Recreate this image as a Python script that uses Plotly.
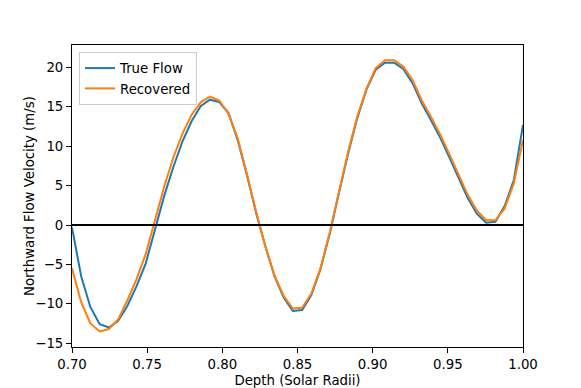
import plotly.graph_objects as go

depth = [0.7000, 0.7061, 0.7122, 0.7184, 0.7245, 0.7306, 0.7367, 0.7429, 0.7490, 0.7551,
         0.7612, 0.7673, 0.7735, 0.7796, 0.7857, 0.7918, 0.7980, 0.8041, 0.8102, 0.8163,
         0.8224, 0.8286, 0.8347, 0.8408, 0.8469, 0.8531, 0.8592, 0.8653, 0.8714, 0.8776,
         0.8837, 0.8898, 0.8959, 0.9020, 0.9082, 0.9143, 0.9204, 0.9265, 0.9327, 0.9388,
         0.9449, 0.9510, 0.9571, 0.9633, 0.9694, 0.9755, 0.9816, 0.9878, 0.9939, 1.0000]

true_flow = [-0.3, -6.5, -10.4, -12.6, -13.0, -12.2, -10.3, -7.8, -4.9, -0.6,
             3.6, 7.3, 10.6, 13.2, 15.1, 15.9, 15.6, 14.2, 10.8, 6.4,
             1.6, -2.7, -6.5, -9.2, -10.9, -10.8, -8.9, -5.6, -1.1, 4.1,
             9.1, 13.6, 17.2, 19.7, 20.6, 20.6, 19.8, 18.0, 15.4, 13.3,
             11.1, 8.6, 6.1, 3.4, 1.4, 0.3, 0.4, 2.4, 5.7, 12.7]

recovered = [-5.5, -9.8, -12.5, -13.5, -13.2, -12.0, -9.6, -6.9, -3.7, 0.5,
             4.8, 8.5, 11.6, 14.0, 15.6, 16.3, 15.8, 14.1, 11.0, 6.5,
             1.7, -2.7, -6.4, -9.0, -10.6, -10.5, -8.7, -5.5, -1.0, 4.2,
             9.3, 13.8, 17.3, 19.9, 20.9, 20.9, 20.1, 18.4, 15.8, 13.7,
             11.5, 9.0, 6.5, 3.8, 1.8, 0.6, 0.6, 2.1, 5.3, 10.8]

x_ticks = [0.70, 0.75, 0.80, 0.85, 0.90, 0.95, 1.00]
x_tick_labels = ["0.70", "0.75", "0.80", "0.85", "0.90", "0.95", "1.00"]
y_ticks = [-15, -10, -5, 0, 5, 10, 15, 20]
x_title = "Depth (Solar Radii)"
y_title = "Northward Flow Velocity (m/s)"

fig = go.Figure()
fig.add_trace(go.Scatter(x=depth, y=true_flow, mode="lines", name="True Flow",
                         line=dict(color="#1f77b4", width=2)))
fig.add_trace(go.Scatter(x=depth, y=recovered, mode="lines", name="Recovered",
                         line=dict(color="#ff7f0e", width=2)))

fig.add_shape(type="line", xref="paper", yref="y", x0=0, x1=1, y0=0, y1=0,
              line=dict(color="black", width=2), layer="above")

font = "DejaVu Sans, Arial, sans-serif"
fs = 13.3

fig.add_annotation(text=y_title, xref="paper", yref="paper", x=0, y=0.5,
                   xanchor="center", yanchor="middle", xshift=-43, textangle=-90,
                   showarrow=False, font=dict(size=fs, family=font, color="black"))

# page body has an 8px default margin, so the figure is shrunk and offset accordingly
fig.update_layout(
    width=573, height=380,
    margin=dict(l=64, r=58, t=37, b=41),
    paper_bgcolor="white", plot_bgcolor="white",
    font=dict(family=font, size=fs, color="black"),
    showlegend=True,
    legend=dict(x=0.0155, y=0.977, xanchor="left", yanchor="top",
                bgcolor="rgba(255,255,255,0.8)", bordercolor="#cccccc", borderwidth=1,
                font=dict(size=fs, family=font), tracegroupgap=0),
)
fig.update_xaxes(range=[0.70, 1.00], tickvals=x_ticks, ticktext=x_tick_labels,
                 showgrid=False, zeroline=False, showline=True, linecolor="black",
                 linewidth=1, mirror=True, ticks="outside", ticklen=5, tickcolor="black",
                 automargin=False,
                 title=dict(text=x_title, standoff=4, font=dict(size=fs)))
fig.update_yaxes(range=[-15.48, 22.84], tickvals=y_ticks,
                 showgrid=False, zeroline=False, showline=True, linecolor="black",
                 linewidth=1, mirror=True, ticks="outside", ticklen=5, tickcolor="black",
                 automargin=False)

fig.write_html("out.html")
